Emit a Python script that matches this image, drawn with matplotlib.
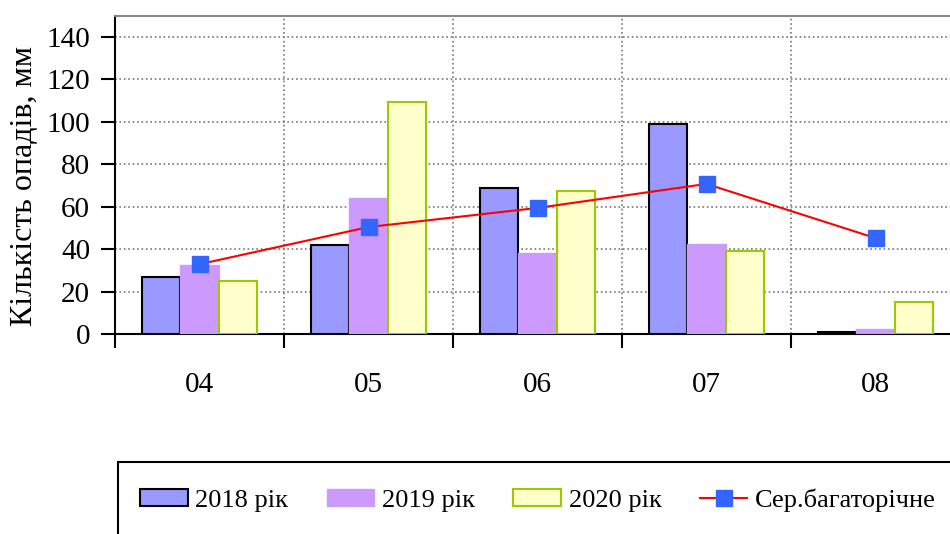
import numpy as np
import matplotlib.pyplot as plt
from matplotlib.patches import Rectangle

plt.rcParams['font.family'] = ['Liberation Serif', 'DejaVu Serif']

# Дані
months = ['04', '05', '06', '07', '08']
rain_2018 = [27, 42, 69, 99, 1.2]
rain_2019 = [32.5, 64, 38.5, 42.5, 2.3]
rain_2020 = [25, 109.5, 67.5, 39, 15.2]
rain_avg = [33, 50.5, 59.5, 70.8, 45.3]

fs = 21
x = np.arange(len(months))
w = 0.225

fig = plt.figure(figsize=(9.5, 5.34), dpi=100)
ax = fig.add_axes([115/950, 1 - 334.3/534, 845/950, 318.6/534])

b1 = ax.bar(x - w, rain_2018, w, color='#9999FF', edgecolor='black', linewidth=1.5,
            label='2018 рік', zorder=3)
b2 = ax.bar(x, rain_2019, w, color='#CC99FF', edgecolor='#C8A0F0', linewidth=1.0,
            label='2019 рік', zorder=3)
b3 = ax.bar(x + w, rain_2020, w, color='#FFFFCC', edgecolor='#99CC00', linewidth=1.5,
            label='2020 рік', zorder=3)
ln, = ax.plot(x, rain_avg, color='red', linewidth=1.5, marker='s', markersize=11.5,
              markerfacecolor='#3366FF', markeredgecolor='#3366FF',
              label='Сер.багаторічне', zorder=4)

ax.set_xlim(-0.5, 4.5)
ax.set_ylim(0, 150)
ax.set_yticks(np.arange(0, 141, 20))
ax.set_xticks(x)
ax.set_xticklabels(months)
ax.set_xticks(np.arange(-0.5, 5, 1), minor=True)
ax.tick_params(axis='x', which='major', length=0, pad=27, labelsize=fs)
ax.tick_params(axis='x', which='minor', length=10, width=1.5, direction='out')
ax.tick_params(axis='y', length=10, width=1.5, direction='out', pad=8, labelsize=fs)

ax.grid(axis='y', which='major', color='#777777', linestyle=':', linewidth=1.2, zorder=0)
ax.grid(axis='x', which='minor', color='#777777', linestyle=':', linewidth=1.2, zorder=0)

ax.spines['left'].set_linewidth(1.5)
ax.spines['bottom'].set_linewidth(1.5)
ax.spines['top'].set_color('#888888')
ax.spines['top'].set_linewidth(1.5)
ax.spines['right'].set_visible(False)

ax.set_ylabel('Кількість опадів, мм', fontsize=23)
ax.yaxis.set_label_coords(-0.090, 0.465)

# рамка легенди
fig.patches.append(Rectangle((118/950, -0.05), 0.9, 1 - 462/534 + 0.05,
                             transform=fig.transFigure, facecolor='white',
                             edgecolor='black', linewidth=1.5))
fig.legend(handles=[b1, b2, b3, ln], loc='center left',
           bbox_to_anchor=(140/950, 1 - 500/534), ncol=4,
           frameon=False, fontsize=19, handlelength=1.8, handleheight=0.62,
           handletextpad=0.3, columnspacing=1.45, borderaxespad=0, borderpad=0)

plt.savefig('out.png', dpi=100)
